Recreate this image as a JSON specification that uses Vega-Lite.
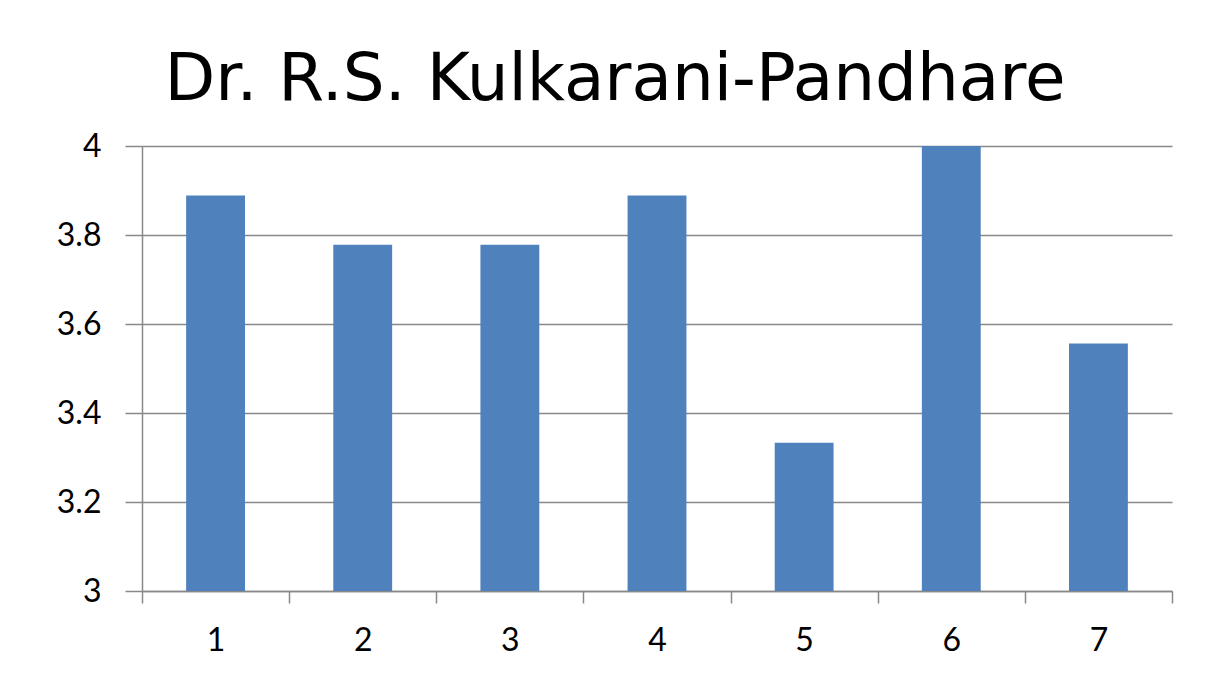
{
  "$schema": "https://vega.github.io/schema/vega-lite/v6.json",
  "width": 1030,
  "height": 445,
  "autosize": {"type": "none"},
  "padding": {"left": 142, "top": 146, "right": 50, "bottom": 96},
  "background": "white",
  "config": {"view": {"stroke": null}, "font": "Lato"},
  "title": {
    "text": "Dr. R.S. Kulkarani-Pandhare",
    "font": "DejaVu Sans",
    "fontSize": 66,
    "fontWeight": "normal",
    "color": "#000000",
    "anchor": "middle",
    "dx": -42,
    "baseline": "alphabetic",
    "offset": -36
  },
  "data": {
    "values": [
      {"n": 1, "v": 3.889},
      {"n": 2, "v": 3.778},
      {"n": 3, "v": 3.778},
      {"n": 4, "v": 3.889},
      {"n": 5, "v": 3.333},
      {"n": 6, "v": 4.0},
      {"n": 7, "v": 3.556}
    ]
  },
  "mark": {"type": "bar", "color": "#4f81bd", "width": {"band": 0.4}},
  "encoding": {
    "x": {
      "field": "n",
      "type": "ordinal",
      "scale": {"paddingInner": 0, "paddingOuter": 0},
      "axis": {
        "title": null,
        "labelAngle": 0,
        "tickBand": "extent",
        "ticks": true,
        "tickSize": 12,
        "tickWidth": 1.5,
        "domainWidth": 1.5,
        "domainColor": "#888888",
        "tickColor": "#888888",
        "labelFontSize": 32,
        "labelFont": "Lato",
        "labelColor": "#000000",
        "labelPadding": 22,
        "grid": false
      }
    },
    "y": {
      "field": "v",
      "type": "quantitative",
      "scale": {"domain": [3, 4], "nice": false, "zero": false},
      "axis": {
        "title": null,
        "values": [3, 3.2, 3.4, 3.6, 3.8, 4],
        "format": "~g",
        "grid": true,
        "gridColor": "#888888",
        "gridWidth": 1.5,
        "tickSize": 17,
        "tickWidth": 1.5,
        "tickColor": "#888888",
        "domainColor": "#888888",
        "domainWidth": 1.5,
        "labelFontSize": 32,
        "labelFont": "Lato",
        "labelColor": "#000000",
        "labelPadding": 24
      }
    },
    "y2": {"datum": 3}
  }
}
